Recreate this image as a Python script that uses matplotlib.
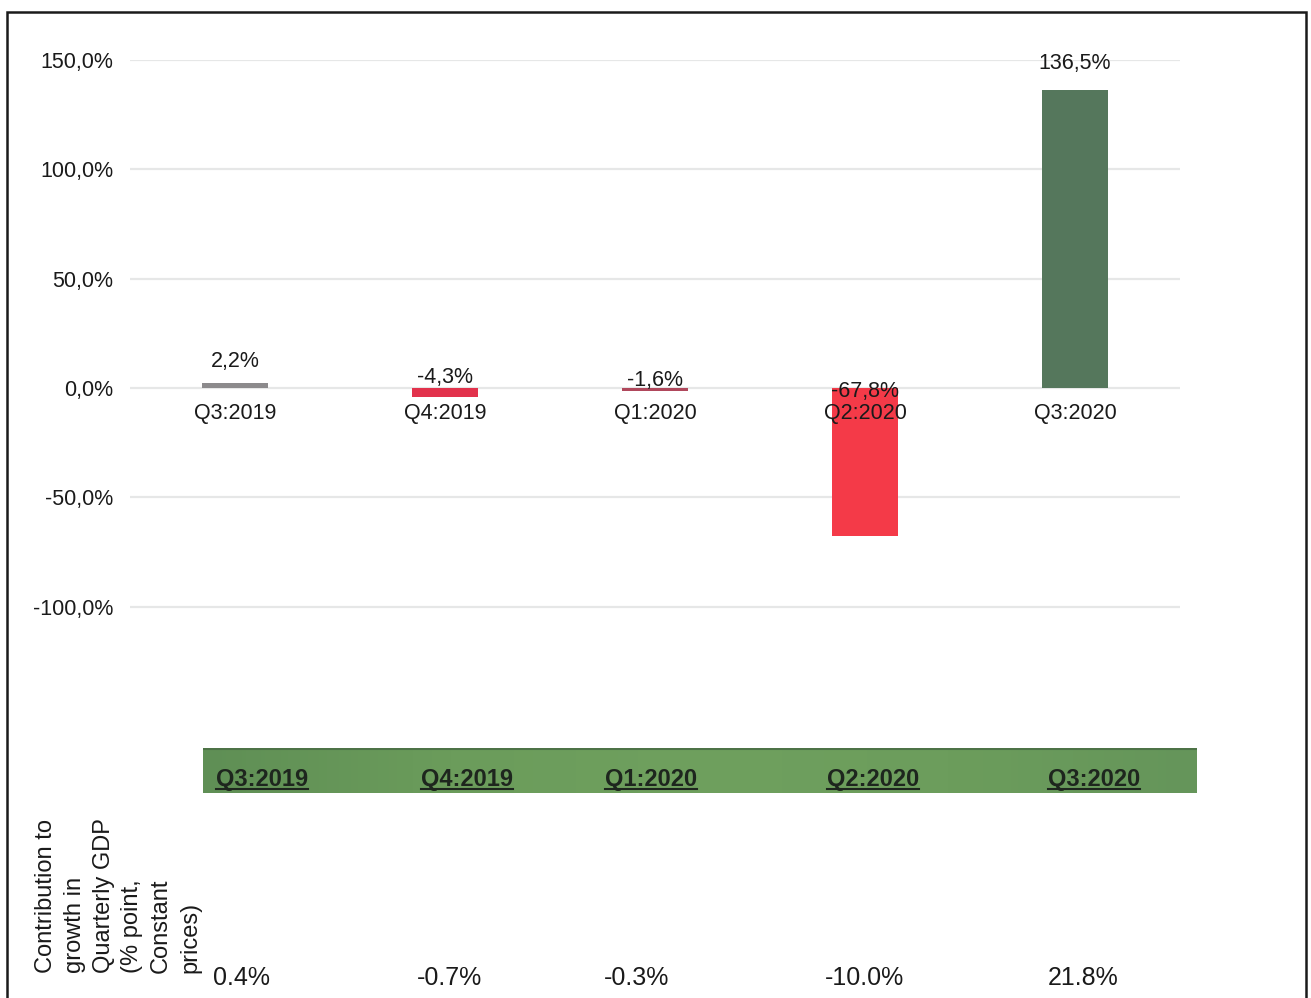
import matplotlib
matplotlib.use("Agg")
import matplotlib.pyplot as plt
import numpy as np
from matplotlib import font_manager
from matplotlib.colors import LinearSegmentedColormap
from matplotlib.patches import Rectangle
from matplotlib.lines import Line2D

# --- data -------------------------------------------------------------
quarters = ["Q3:2019", "Q4:2019", "Q1:2020", "Q2:2020", "Q3:2020"]
growth_pct = [2.2, -4.3, -1.6, -67.8, 136.5]
contribution_pct = [0.4, -0.7, -0.3, -10.0, 21.8]
y_ticks = [-100, -50, 0, 50, 100, 150]
side_label = "Contribution to\ngrowth in\nQuarterly GDP\n(% point,\nConstant\nprices)"

# --- styling ------------------------------------------------------------
bar_colors = ["#8c8a8c", "#e2324c", "#b0485c", "#f43a48", "#55775c"]
label_offsets_px = [11, 0, -3, -14, 16]
band_pos = [0.0594, 0.2656, 0.4507, 0.674, 0.8964]
row_pos_px = [242, 450, 637, 865, 1083]

available = {f.name for f in font_manager.fontManager.ttflist}
base_font = "Liberation Sans" if "Liberation Sans" in available else "DejaVu Sans"
plt.rcParams["font.family"] = [base_font, "DejaVu Sans"]

W, H = 1311, 998
fig = plt.figure(figsize=(W / 100, H / 100), dpi=100)
fig.patch.set_facecolor("white")


def fx(px):
    return px / W


def fy(py):
    return 1 - py / H


# main bar chart
ax = fig.add_axes([fx(130), fy(716), fx(1180) - fx(130), fy(60) - fy(716)])
x = np.arange(len(quarters))
ax.bar(x, growth_pct, width=0.31, color=bar_colors, zorder=3)
ax.set_xlim(-0.5, 4.5)
ax.set_ylim(-150, 150)
for spine in ax.spines.values():
    spine.set_visible(False)
ax.set_xticks([])
ax.set_yticks(y_ticks)
ax.set_yticklabels([f"{v:.1f}%".replace(".", ",") for v in y_ticks], fontsize=15.5, color="#1a1a1a")
ax.tick_params(axis="y", length=0, pad=12)
for t in y_ticks:
    ax.axhline(t, color="#e6e7e7", lw=1.6, zorder=1)

for i, v in enumerate(growth_pct):
    base = max(v, 0)
    ax.annotate(f"{v:.1f}%".replace(".", ","), (i, base), xytext=(0, label_offsets_px[i] * 0.72),
                textcoords="offset points", ha="center", va="bottom", fontsize=15.5, color="#1a1a1a", zorder=5)
    ax.annotate(quarters[i], (i, 0), xytext=(0, -11), textcoords="offset points",
                ha="center", va="top", fontsize=15.5, color="#1a1a1a", zorder=5)

# green quarter band
band = fig.add_axes([fx(203), fy(793), fx(1197) - fx(203), fy(748) - fy(793)])
cmap = LinearSegmentedColormap.from_list("band", ["#5f8f55", "#6b9c5b", "#6fa05e", "#6c9d5c", "#65955a"])
grad = np.tile(np.linspace(0, 1, 256), (8, 1))
band.imshow(grad, aspect="auto", cmap=cmap, extent=[0, 1, 0, 1])
band.axhline(0.985, color="#4d7347", lw=1.5)
band.set_xlim(0, 1)
band.set_ylim(0, 1)
band.axis("off")
band_texts = []
for p, q in zip(band_pos, quarters):
    band_texts.append(band.text(p, 0.3, q, ha="center", va="center", fontsize=17, fontweight="bold",
                                color="#1e261e"))

# contribution row
for px, c in zip(row_pos_px, contribution_pct):
    fig.text(fx(px), fy(978), f"{c:.1f}%", ha="center", va="center", fontsize=18, color="#1a1a1a")

fig.text(fx(35), fy(973), side_label, rotation=90, ha="left", va="bottom", multialignment="left",
         fontsize=17, linespacing=1.4, color="#1a1a1a")

# page frame
fig.patches.append(Rectangle((fx(7), -0.05), fx(1306) - fx(7), fy(12) + 0.05, transform=fig.transFigure,
                             fill=False, edgecolor="#1a1a1a", lw=1.8))

# underline the band labels
fig.canvas.draw()
renderer = fig.canvas.get_renderer()
for t in band_texts:
    bb = t.get_window_extent(renderer)
    yy = bb.y0 + 2
    fig.lines.append(Line2D([bb.x0 / W, bb.x1 / W], [yy / H, yy / H], transform=fig.transFigure,
                            color="#1e261e", lw=1.5))

fig.savefig("out.png", dpi=100, facecolor="white")
